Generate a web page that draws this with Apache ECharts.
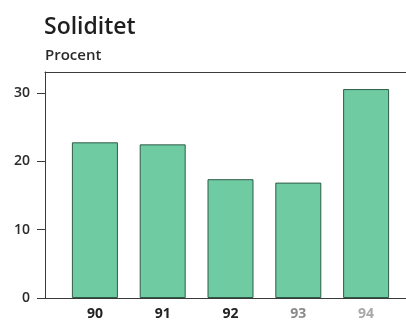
<!DOCTYPE html>
<html>
<head>
<meta charset="utf-8">
<script src="https://cdn.jsdelivr.net/npm/echarts@6/dist/echarts.min.js"></script>
<style>
  html, body { margin: 0; padding: 0; background: #ffffff; }
  #chart { width: 406px; height: 320px; }
</style>
</head>
<body>
<div id="chart"></div>
<script>
// Soliditet per år, procent
const years = ['90', '91', '92', '93', '94'];
const soliditet = [22.8, 22.5, 17.4, 16.9, 30.6];
const yTicks = [0, 10, 20, 30];
const yearLabelColors = ['#222222', '#222222', '#222222', '#8a8a8a', '#a8a8a8'];

const font = '"Open Sans", "Noto Sans", sans-serif';
const chart = echarts.init(document.getElementById('chart'), null, { renderer: 'canvas' });

chart.setOption({
  backgroundColor: '#ffffff',
  animation: false,
  title: [
    { text: 'Soliditet', left: 44, top: 16, padding: 0,
      textStyle: { fontFamily: font, fontSize: 23, fontWeight: 600, color: '#1e1e1e' } },
    { text: 'Procent', left: 45, top: 48, padding: 0,
      textStyle: { fontFamily: font, fontSize: 15, fontWeight: 600, color: '#2a2a2a' } }
  ],
  grid: [
    // frame: left, top and bottom rules running off the right edge
    { left: 45, top: 72, bottom: 22, width: 420, outerBoundsMode: 'none' },
    // bars
    { left: 61, top: 72, bottom: 22, right: 6, outerBoundsMode: 'none' }
  ],
  xAxis: [
    { gridIndex: 0, type: 'value', min: 0, max: 1, position: 'bottom',
      axisLine: { show: true, onZero: false, lineStyle: { color: '#3a3a3a', width: 1 } },
      axisTick: { show: false }, axisLabel: { show: false }, splitLine: { show: false } },
    { gridIndex: 0, type: 'value', min: 0, max: 1, position: 'top',
      axisLine: { show: true, onZero: false, lineStyle: { color: '#3a3a3a', width: 1 } },
      axisTick: { show: false }, axisLabel: { show: false }, splitLine: { show: false } },
    { gridIndex: 1, type: 'category', data: years,
      axisLine: { show: false }, axisTick: { show: false },
      axisLabel: { fontFamily: font, fontSize: 14, fontWeight: 'bold', margin: 9,
        color: (v, i) => yearLabelColors[i] } }
  ],
  yAxis: [
    { gridIndex: 0, type: 'value', min: 0, max: 33.1, interval: 10,
      splitLine: { show: false },
      axisLine: { show: true, onZero: false, lineStyle: { color: '#3a3a3a', width: 1 } },
      axisTick: { show: true, length: 8, customValues: yTicks,
        lineStyle: { color: '#3a3a3a', width: 1 } },
      axisLabel: { customValues: yTicks, fontFamily: font, fontSize: 14, fontWeight: 600,
        color: '#2a2a2a', margin: 15 } },
    { gridIndex: 1, type: 'value', min: 0, max: 33.1, show: false }
  ],
  series: [{
    type: 'bar',
    xAxisIndex: 2, yAxisIndex: 1,
    data: soliditet,
    barWidth: 46,
    itemStyle: { color: '#6ecba2', borderColor: '#2f5c48', borderWidth: 1 }
  }]
});
</script>
</body>
</html>
